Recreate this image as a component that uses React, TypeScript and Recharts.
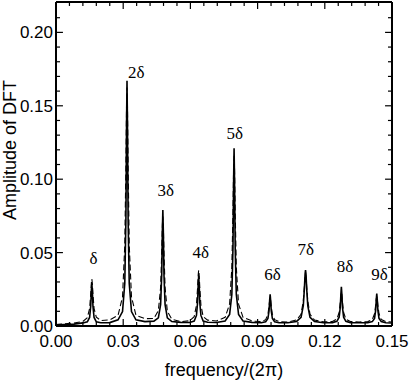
import { LineChart, Line, XAxis, YAxis, ReferenceDot, ReferenceLine, Label } from 'recharts'

// frequency grid (units of 2π) — dense around each harmonic so the spikes stay sharp
const freq = [
  0, 0.004, 0.008, 0.012, 0.014, 0.015, 0.0155, 0.0158, 0.016, 0.0162, 0.0165, 0.017, 0.018, 0.02, 0.024,
  0.0277, 0.0297, 0.0307, 0.0312, 0.0315, 0.0317, 0.0319, 0.0322, 0.0327, 0.0337, 0.0357, 0.0397,
  0.0437, 0.0457, 0.0467, 0.0472, 0.0475, 0.0477, 0.0479, 0.0482, 0.0487, 0.0497, 0.0517, 0.0557,
  0.0597, 0.0617, 0.0627, 0.0632, 0.0635, 0.0637, 0.0639, 0.0642, 0.0647, 0.0657, 0.0677, 0.0716,
  0.0755, 0.0775, 0.0785, 0.079, 0.0793, 0.0795, 0.0797, 0.08, 0.0805, 0.0815, 0.0835, 0.0875,
  0.0916, 0.0936, 0.0946, 0.0951, 0.0954, 0.0956, 0.0958, 0.0961, 0.0966, 0.0976, 0.0996, 0.1035,
  0.1074, 0.1094, 0.1104, 0.1109, 0.1112, 0.1114, 0.1116, 0.1119, 0.1124, 0.1134, 0.1154, 0.1194,
  0.1234, 0.1254, 0.1264, 0.1269, 0.1272, 0.1274, 0.1276, 0.1279, 0.1284, 0.1294, 0.1314, 0.1353,
  0.1392, 0.1412, 0.1422, 0.1427, 0.143, 0.1432, 0.1434, 0.1437, 0.1442, 0.1452, 0.1472, 0.15,
]

const solidAmp = [
  0.0008, 0.001, 0.0013, 0.0021, 0.0028, 0.0058, 0.0135, 0.0245, 0.029, 0.0245, 0.0135, 0.0058, 0.0028, 0.0022, 0.0023,
  0.0042, 0.0098, 0.029, 0.072, 0.138, 0.167, 0.138, 0.072, 0.029, 0.0098, 0.0042, 0.003,
  0.0033, 0.0056, 0.0146, 0.035, 0.0655, 0.079, 0.0655, 0.035, 0.0146, 0.0056, 0.003, 0.0025,
  0.0024, 0.0034, 0.0072, 0.0158, 0.0288, 0.034, 0.0288, 0.0158, 0.0072, 0.0034, 0.0026, 0.0024,
  0.0034, 0.0078, 0.0215, 0.053, 0.0998, 0.121, 0.0998, 0.053, 0.0215, 0.0078, 0.0034, 0.0025,
  0.0022, 0.0029, 0.0051, 0.0102, 0.0178, 0.0215, 0.0178, 0.0102, 0.0051, 0.0029, 0.0022, 0.0022,
  0.0031, 0.0059, 0.0138, 0.0258, 0.0353, 0.038, 0.0353, 0.0258, 0.0138, 0.0059, 0.0031, 0.0022,
  0.0023, 0.0032, 0.006, 0.0126, 0.022, 0.0267, 0.022, 0.0126, 0.006, 0.0032, 0.0023, 0.0022,
  0.0022, 0.003, 0.0052, 0.0106, 0.0183, 0.0221, 0.0183, 0.0106, 0.0052, 0.003, 0.0022, 0.002,
]

const dashedAmp = [
  0.001, 0.0015, 0.002, 0.0031, 0.0057, 0.0119, 0.0217, 0.0295, 0.032, 0.0295, 0.0217, 0.0119, 0.006, 0.0037, 0.0042,
  0.0073, 0.0199, 0.0551, 0.1085, 0.1505, 0.1625, 0.1505, 0.1085, 0.0551, 0.0199, 0.0073, 0.005,
  0.0051, 0.0105, 0.0262, 0.0502, 0.0691, 0.0745, 0.0691, 0.0502, 0.0262, 0.01, 0.0046, 0.003,
  0.0036, 0.0064, 0.0142, 0.026, 0.0353, 0.038, 0.0353, 0.026, 0.0142, 0.0064, 0.004, 0.0034,
  0.0059, 0.0149, 0.0398, 0.0776, 0.1075, 0.116, 0.1075, 0.0776, 0.0398, 0.0149, 0.0059, 0.0034,
  0.003, 0.0043, 0.0079, 0.0134, 0.0178, 0.019, 0.0178, 0.0134, 0.0079, 0.0043, 0.003, 0.0027,
  0.0041, 0.008, 0.0171, 0.0273, 0.0335, 0.035, 0.0335, 0.0273, 0.0171, 0.008, 0.0041, 0.0028,
  0.0031, 0.0047, 0.0092, 0.0161, 0.0215, 0.023, 0.0215, 0.0161, 0.0092, 0.0047, 0.0031, 0.0027,
  0.003, 0.0044, 0.0083, 0.0141, 0.0187, 0.02, 0.0187, 0.0141, 0.0083, 0.0044, 0.003, 0.0027,
]

const xTicks = [0, 0.03, 0.06, 0.09, 0.12, 0.15]
const xMinorTicks = [
  0.006, 0.012, 0.018, 0.024, 0.036, 0.042, 0.048, 0.054, 0.066, 0.072,
  0.078, 0.084, 0.096, 0.102, 0.108, 0.114, 0.126, 0.132, 0.138, 0.144,
]
const yTicks = [0, 0.05, 0.1, 0.15, 0.2]
const yMinorTicks = [
  0.01, 0.02, 0.03, 0.04, 0.06, 0.07, 0.08, 0.09, 0.11, 0.12,
  0.13, 0.14, 0.16, 0.17, 0.18, 0.19, 0.21,
]

// harmonic annotations: text, and where it sits (freq, amplitude)
const peakLabels = ['δ', '2δ', '3δ', '4δ', '5δ', '6δ', '7δ', '8δ', '9δ']
const peakLabelFreq = [0.0168, 0.0358, 0.049, 0.0646, 0.0798, 0.0966, 0.1115, 0.129, 0.1444]
const peakLabelAmp = [0.0466, 0.1728, 0.0929, 0.0503, 0.1313, 0.0357, 0.0527, 0.0412, 0.0357]

const X_MAX = 0.15
const Y_MAX = 0.2207
// inward tick lengths, in data units (≈7px major / 4px minor)
const X_TICK_MAJ = 0.0048
const X_TICK_MIN = 0.0027
const Y_TICK_MAJ = 0.0031
const Y_TICK_MIN = 0.0018

const SANS = '"Liberation Sans", Arial, Helvetica, sans-serif'
const SERIF = '"Liberation Serif", "Times New Roman", serif'

const data = freq.map((f, i) => ({ f, s: solidAmp[i], d: dashedAmp[i] }))
const fmt = (v: number) => v.toFixed(2)

type Seg = [{ x: number; y: number }, { x: number; y: number }]
const tickSegs: Seg[] = [
  ...xTicks.flatMap((t) => [
    [{ x: t, y: 0 }, { x: t, y: X_TICK_MAJ }] as Seg,
    [{ x: t, y: Y_MAX }, { x: t, y: Y_MAX - X_TICK_MAJ }] as Seg,
  ]),
  ...xMinorTicks.flatMap((t) => [
    [{ x: t, y: 0 }, { x: t, y: X_TICK_MIN }] as Seg,
    [{ x: t, y: Y_MAX }, { x: t, y: Y_MAX - X_TICK_MIN }] as Seg,
  ]),
  ...yTicks.flatMap((t) => [
    [{ x: 0, y: t }, { x: Y_TICK_MAJ, y: t }] as Seg,
    [{ x: X_MAX, y: t }, { x: X_MAX - Y_TICK_MAJ, y: t }] as Seg,
  ]),
  ...yMinorTicks.flatMap((t) => [
    [{ x: 0, y: t }, { x: Y_TICK_MIN, y: t }] as Seg,
    [{ x: X_MAX, y: t }, { x: X_MAX - Y_TICK_MIN, y: t }] as Seg,
  ]),
]

export default function App() {
  const frame = { stroke: '#000', strokeWidth: 2 }
  return (
    <div style={{ position: 'absolute', left: 0, top: 0, width: 409, height: 382, background: '#fff' }}>
      <LineChart width={409} height={382} data={data} margin={{ top: 2, right: 17, bottom: 0, left: 0 }}>
        <XAxis
          dataKey="f"
          type="number"
          domain={[0, X_MAX]}
          allowDataOverflow
          ticks={xTicks}
          interval={0}
          tickFormatter={fmt}
          height={56}
          axisLine={frame}
          tickLine={false}
          tickSize={9}
          tickMargin={0}
          tick={{ fill: '#000', fontSize: 17, fontFamily: SANS }}
        >
          <Label value="frequency/(2π)" position="insideBottom" offset={6} fill="#000" fontSize={18} fontFamily={SANS} />
        </XAxis>
        <YAxis
          type="number"
          domain={[0, Y_MAX]}
          allowDataOverflow
          ticks={yTicks}
          interval={0}
          tickFormatter={fmt}
          width={56}
          axisLine={frame}
          tickLine={false}
          tickSize={3}
          tickMargin={0}
          tick={{ fill: '#000', fontSize: 17, fontFamily: SANS }}
        >
          <Label
            content={() => (
              <text x={16} y={150} transform="rotate(-90 16 150)" textAnchor="middle" fill="#000" fontSize={18} fontFamily={SANS}>
                Amplitude of DFT
              </text>
            )}
          />
        </YAxis>

        {/* top and right sides of the frame */}
        <ReferenceLine y={Y_MAX} stroke="#000" strokeWidth={2} ifOverflow="visible" />
        <ReferenceLine x={X_MAX} stroke="#000" strokeWidth={2} ifOverflow="visible" />

        {/* inward tick marks on all four sides */}
        {tickSegs.map((seg, i) => (
          <ReferenceLine key={i} segment={seg} stroke="#000" strokeWidth={1.2} ifOverflow="visible" />
        ))}

        <Line
          type="linear"
          dataKey="d"
          stroke="#000"
          strokeWidth={1.1}
          strokeDasharray="6 3"
          dot={false}
          activeDot={false}
          isAnimationActive={false}
        />
        <Line
          type="linear"
          dataKey="s"
          stroke="#000"
          strokeWidth={1.6}
          dot={false}
          activeDot={false}
          isAnimationActive={false}
        />

        {peakLabels.map((t, i) => (
          <ReferenceDot
            key={t}
            x={peakLabelFreq[i]}
            y={peakLabelAmp[i]}
            r={0}
            fill="none"
            stroke="none"
            label={{ value: t, position: 'center', fill: '#000', fontSize: 17, fontFamily: SERIF }}
          />
        ))}
      </LineChart>
    </div>
  )
}
